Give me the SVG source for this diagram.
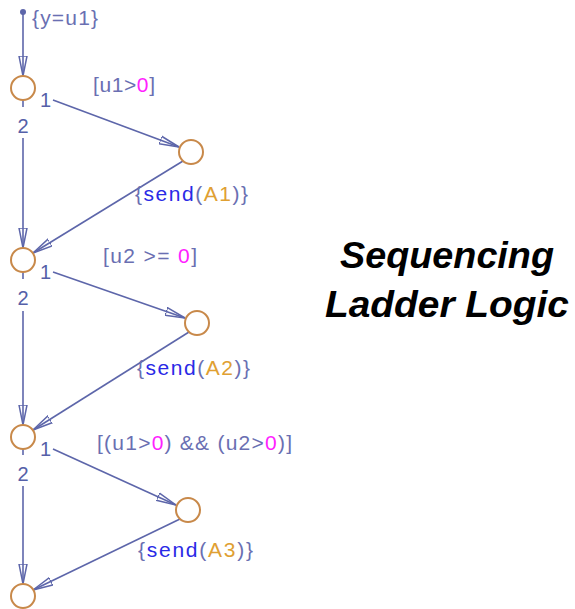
<svg xmlns="http://www.w3.org/2000/svg" width="575" height="609" viewBox="0 0 575 609">
<style>
.j{fill:none;stroke:#c8894a;stroke-width:2}
.c{fill:none;stroke:#5d66aa;stroke-width:1.6}
.t{font-family:"Liberation Sans",Arial,sans-serif;font-size:21px;fill:#6a6fb2}
.n{font-family:"Liberation Sans",Arial,sans-serif;font-size:20px;fill:#5560a8}
.s{fill:#2a2ae6}.a{fill:#e0a032}.z{fill:#ff22ff}
.h{font-family:"Liberation Sans",Arial,sans-serif;font-size:37px;font-weight:bold;font-style:italic;fill:#000}
</style>
<defs>
<marker id="ar" viewBox="0 0 20 10" refX="20" refY="5" markerWidth="20" markerHeight="10" markerUnits="userSpaceOnUse" orient="auto">
<path d="M0,1 L20,5 L0,9 Z" fill="none" stroke="#5d66aa" stroke-width="1.5"/>
</marker>
</defs>
<rect width="575" height="609" fill="#fff"/>
<g id="connectors">
<circle cx="23" cy="12" r="3" fill="#5d66aa"/>
<line class="c" x1="23" y1="12" x2="23" y2="76" marker-end="url(#ar)"/>
<line class="c" x1="23" y1="100" x2="23" y2="107"/>
<line class="c" x1="23" y1="138" x2="23" y2="248" marker-end="url(#ar)"/>
<line class="c" x1="53" y1="100" x2="179" y2="147" marker-end="url(#ar)"/>
<line class="c" x1="183" y1="161" x2="33" y2="253" marker-end="url(#ar)"/>
<line class="c" x1="23" y1="272" x2="23" y2="279"/>
<line class="c" x1="23" y1="311" x2="23" y2="425" marker-end="url(#ar)"/>
<line class="c" x1="53" y1="272" x2="185" y2="318" marker-end="url(#ar)"/>
<line class="c" x1="189" y1="332" x2="33" y2="430" marker-end="url(#ar)"/>
<line class="c" x1="23" y1="449" x2="23" y2="455"/>
<line class="c" x1="23" y1="486" x2="23" y2="584" marker-end="url(#ar)"/>
<line class="c" x1="53" y1="449" x2="176" y2="505" marker-end="url(#ar)"/>
<line class="c" x1="180" y1="519" x2="33" y2="590" marker-end="url(#ar)"/>
</g>
<g id="labels">
<text class="t" x="32" y="25" textLength="66" lengthAdjust="spacing">{y=u1}</text>
<text class="t" x="93" y="92" textLength="62" lengthAdjust="spacing">[u1&gt;<tspan class="z">0</tspan>]</text>
<text class="t" x="135" y="201" textLength="113" lengthAdjust="spacing">{<tspan class="s">send</tspan>(<tspan class="a">A1</tspan>)}</text>
<text class="t" x="103" y="263" textLength="94" lengthAdjust="spacing">[u2 &gt;= <tspan class="z">0</tspan>]</text>
<text class="t" x="137" y="375" textLength="113" lengthAdjust="spacing">{<tspan class="s">send</tspan>(<tspan class="a">A2</tspan>)}</text>
<text class="t" x="97" y="450" textLength="195" lengthAdjust="spacing">[(u1&gt;<tspan class="z">0</tspan>) &amp;&amp; (u2&gt;<tspan class="z">0</tspan>)]</text>
<text class="t" x="138" y="557" textLength="115" lengthAdjust="spacing">{<tspan class="s">send</tspan>(<tspan class="a">A3</tspan>)}</text>
<text class="n" x="40" y="107">1</text>
<text class="n" x="23" y="133" text-anchor="middle">2</text>
<text class="n" x="40" y="279">1</text>
<text class="n" x="23" y="305" text-anchor="middle">2</text>
<text class="n" x="40" y="456">1</text>
<text class="n" x="23" y="481" text-anchor="middle">2</text>
</g>
<g id="j1"><circle class="j" cx="23" cy="88" r="12"/></g>
<g id="a1"><circle class="j" cx="191" cy="152" r="12"/></g>
<g id="j2"><circle class="j" cx="23" cy="260" r="12"/></g>
<g id="a2"><circle class="j" cx="197" cy="323" r="12"/></g>
<g id="j3"><circle class="j" cx="23" cy="437" r="12"/></g>
<g id="a3"><circle class="j" cx="188" cy="510" r="12"/></g>
<g id="j4"><circle class="j" cx="23" cy="596" r="12"/></g>
<g id="title">
<text class="h" x="447" y="268" text-anchor="middle" textLength="214" lengthAdjust="spacingAndGlyphs">Sequencing</text>
<text class="h" x="447" y="317" text-anchor="middle" textLength="244" lengthAdjust="spacingAndGlyphs">Ladder Logic</text>
</g>
</svg>
